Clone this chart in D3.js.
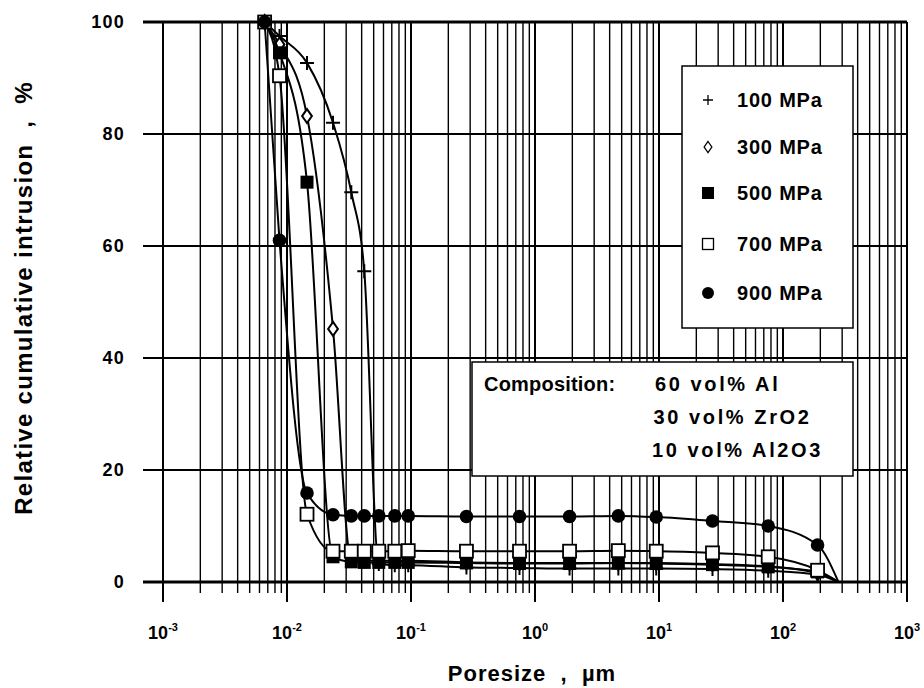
<!DOCTYPE html>
<html>
<head>
<meta charset="utf-8">
<script src="https://cdn.jsdelivr.net/npm/d3@7"></script>
<style>
    body { margin: 0; background: #fff; }
    text { font-family: "Liberation Sans", Arial, sans-serif; font-weight: bold; fill: #000; }
</style>
</head>
<body>
<div id="chart"></div>
<script>

// Pore sizes (um) shared by all series
var poreSize = [0.0066, 0.0087, 0.0145, 0.0235, 0.033, 0.042, 0.055, 0.074, 0.095,
    0.28, 0.75, 1.9, 4.7, 9.5, 27, 76, 190, 280];

// Relative cumulative intrusion (%) per compaction pressure
var mpa100 = [100, 97.5, 92.7, 82, 69.6, 55.5, 3.2, 3.0, 3.0, 2.6, 2.5, 2.4, 2.4, 2.4, 2.3, 2.0, 1.3, 0];
var mpa300 = [100, 96, 83.2, 45.2, 4.0, 3.9, 3.8, 3.8, 3.8, 3.5, 3.4, 3.4, 3.4, 3.4, 3.2, 2.8, 1.6, 0];
var mpa500 = [100, 94.5, 71.4, 4.5, 3.6, 3.5, 3.5, 3.5, 3.5, 3.4, 3.3, 3.3, 3.4, 3.3, 3.1, 2.7, 1.8, 0];
var mpa700 = [100, 90.4, 12.1, 5.5, 5.5, 5.5, 5.5, 5.5, 5.6, 5.5, 5.5, 5.5, 5.6, 5.5, 5.2, 4.5, 2.1, 0];
var mpa900 = [100, 61, 15.9, 12.0, 11.8, 11.8, 11.8, 11.8, 11.8, 11.7, 11.7, 11.7, 11.8, 11.6, 10.9, 10.0, 6.6, 0];

var seriesNames = ["100 MPa", "300 MPa", "500 MPa", "700 MPa", "900 MPa"];
var seriesMarkers = ["plus", "diamond", "filledSquare", "openSquare", "circle"];
var seriesValues = [mpa100, mpa300, mpa500, mpa700, mpa900];

var yTicks = [0, 20, 40, 60, 80, 100];
var xExponents = [-3, -2, -1, 0, 1, 2, 3];

var compositionLines = ["60 vol% Al", "30 vol% ZrO2", "10 vol% Al2O3"];

var margin = { top: 22, right: 17, bottom: 106, left: 163 };
var width = 924 - margin.left - margin.right,
    height = 688 - margin.top - margin.bottom;

var svg = d3.select("#chart").append("svg")
    .attr("width", 924)
    .attr("height", 688)
    .append("g")
    .attr("transform", "translate(" + margin.left + "," + margin.top + ")");

var x = d3.scaleLog()
    .domain([1e-3, 1e3])
    .range([0, width]);

var y = d3.scaleLinear()
    .domain([0, 100])
    .range([height, 0]);

function isMajor(d) {
    return Math.abs(Math.log10(d) - Math.round(Math.log10(d))) < 1e-9;
}

// Log grid: 1..9 per decade, majors run a bit further below the axis
var gridValues = [];
d3.range(-3, 3).forEach(function(k) {
    d3.range(1, 10).forEach(function(m) {
        gridValues.push(m * Math.pow(10, k));
    });
});
gridValues.push(1e3);

svg.selectAll(".vgrid")
    .data(gridValues)
    .enter().append("line")
    .attr("class", "vgrid")
    .attr("x1", function(d) { return x(d); })
    .attr("x2", function(d) { return x(d); })
    .attr("y1", 0)
    .attr("y2", function(d) { return height + (isMajor(d) ? 20 : 11); })
    .attr("stroke", "#000")
    .attr("stroke-width", function(d) { return isMajor(d) ? 2 : 1.4; });

svg.selectAll(".hgrid")
    .data(yTicks)
    .enter().append("line")
    .attr("class", "hgrid")
    .attr("x1", -20)
    .attr("x2", width)
    .attr("y1", function(d) { return y(d); })
    .attr("y2", function(d) { return y(d); })
    .attr("stroke", "#000")
    .attr("stroke-width", function(d) { return (d === 100 || d === 0) ? 3 : 2; });

// Tick labels
svg.selectAll(".ylabel")
    .data(yTicks)
    .enter().append("text")
    .attr("class", "ylabel")
    .attr("x", -38)
    .attr("y", function(d) { return y(d); })
    .attr("dy", "0.36em")
    .attr("text-anchor", "end")
    .style("font-size", "18px")
    .style("letter-spacing", "1.2px")
    .text(function(d) { return d; });

var xLabels = svg.selectAll(".xlabel")
    .data(xExponents)
    .enter().append("text")
    .attr("class", "xlabel")
    .attr("x", function(d) { return x(Math.pow(10, d)); })
    .attr("y", height + 57)
    .attr("text-anchor", "middle")
    .style("font-size", "18px");

xLabels.append("tspan")
    .text("10");
xLabels.append("tspan")
    .attr("dy", -8)
    .style("font-size", "11px")
    .text(function(d) { return d; });

// Axis titles
svg.append("text")
    .attr("x", width / 2 - 3)
    .attr("y", height + 99)
    .attr("text-anchor", "middle")
    .style("font-size", "22px")
    .style("letter-spacing", "1px")
    .style("white-space", "pre")
    .text("Poresize  ,  µm");

svg.append("text")
    .attr("transform", "translate(" + (-131) + "," + (y(50) - 4) + ") rotate(-90)")
    .attr("text-anchor", "middle")
    .style("font-size", "24px")
    .style("letter-spacing", "1.3px")
    .style("white-space", "pre")
    .text("Relative cumulative intrusion  ,  %");

// Marker shapes
function drawMarker(sel, type, s) {
    if (type === "plus") {
        sel.append("path")
            .attr("d", "M" + (-s) + ",0H" + s + "M0," + (-s) + "V" + s)
            .attr("stroke", "#000")
            .attr("stroke-width", 2)
            .attr("fill", "none");
    } else if (type === "diamond") {
        sel.append("path")
            .attr("d", "M0," + (-s) + "L" + (s * 0.7) + ",0L0," + s + "L" + (-s * 0.7) + ",0Z")
            .attr("stroke", "#000")
            .attr("stroke-width", 2)
            .attr("fill", "#fff");
    } else if (type === "filledSquare") {
        sel.append("rect")
            .attr("x", -s).attr("y", -s)
            .attr("width", 2 * s).attr("height", 2 * s)
            .attr("fill", "#000");
    } else if (type === "openSquare") {
        sel.append("rect")
            .attr("x", -s).attr("y", -s)
            .attr("width", 2 * s).attr("height", 2 * s)
            .attr("stroke", "#000")
            .attr("stroke-width", 1.8)
            .attr("fill", "#fff");
    } else {
        sel.append("circle")
            .attr("r", s)
            .attr("fill", "#000");
    }
}

var markerSize = { plus: 7, diamond: 7, filledSquare: 6.5, openSquare: 6.5, circle: 6.8 };

var line = d3.line()
    .x(function(d) { return x(d.x); })
    .y(function(d) { return y(d.y); })
    .curve(d3.curveMonotoneX);

seriesValues.forEach(function(values, i) {
    var pts = values.map(function(v, j) { return { x: poreSize[j], y: v }; });

    svg.append("path")
        .datum(pts)
        .attr("d", line)
        .attr("fill", "none")
        .attr("stroke", "#000")
        .attr("stroke-width", 2);

    // end point sits on the axis line, no marker drawn there
    svg.selectAll(".m" + i)
        .data(pts.filter(function(d) { return d.y > 0; }))
        .enter().append("g")
        .attr("class", "m" + i)
        .attr("transform", function(d) { return "translate(" + x(d.x) + "," + y(d.y) + ")"; })
        .each(function() {
            drawMarker(d3.select(this), seriesMarkers[i], markerSize[seriesMarkers[i]]);
        });
});

// Legend box
var legend = svg.append("g")
    .attr("transform", "translate(" + (682 - margin.left) + "," + (66 - margin.top) + ")");

legend.append("rect")
    .attr("width", 171)
    .attr("height", 262)
    .attr("fill", "#fff")
    .attr("stroke", "#000")
    .attr("stroke-width", 1.5);

var legendY = [34, 81, 127, 178, 227];
var legendSize = { plus: 5, diamond: 5.5, filledSquare: 6, openSquare: 5.5, circle: 6 };

seriesNames.forEach(function(name, i) {
    var row = legend.append("g")
        .attr("transform", "translate(0," + legendY[i] + ")");
    var sym = row.append("g").attr("transform", "translate(26,0)");
    drawMarker(sym, seriesMarkers[i], legendSize[seriesMarkers[i]]);
    if (seriesMarkers[i] === "diamond" || seriesMarkers[i] === "openSquare" || seriesMarkers[i] === "plus") {
        sym.select("path, rect").attr("stroke-width", 1.3);
    }
    row.append("text")
        .attr("x", 55)
        .attr("dy", "0.36em")
        .style("font-size", "20px")
        .style("letter-spacing", "0.8px")
        .text(name);
});

// Composition box
var comp = svg.append("g")
    .attr("transform", "translate(" + (472 - margin.left) + "," + (362 - margin.top) + ")");

comp.append("rect")
    .attr("width", 381)
    .attr("height", 114)
    .attr("fill", "#fff")
    .attr("stroke", "#000")
    .attr("stroke-width", 1.5);

comp.append("text")
    .attr("x", 12)
    .attr("y", 29)
    .style("font-size", "20px")
    .style("letter-spacing", "0.2px")
    .text("Composition:");

comp.selectAll(".compline")
    .data(compositionLines)
    .enter().append("text")
    .attr("class", "compline")
    .attr("x", function(d, i) { return 183 - i * 1.5; })
    .attr("y", function(d, i) { return 29 + i * 33; })
    .style("font-size", "20px")
    .style("letter-spacing", "2.6px")
    .text(function(d) { return d; });

</script>
</body>
</html>
